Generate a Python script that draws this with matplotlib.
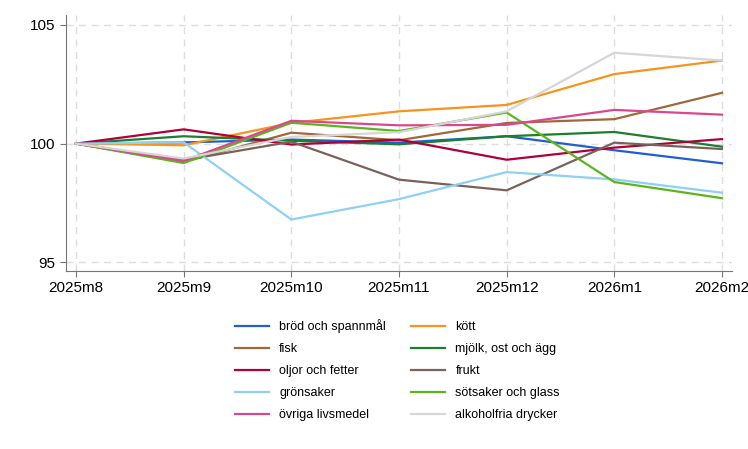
import matplotlib.pyplot as plt

plt.rcParams['font.family'] = ['Liberation Sans', 'DejaVu Sans']

months = ['2025m8', '2025m9', '2025m10', '2025m11', '2025m12', '2026m1', '2026m2']

brod = [100, 100.05, 100.17, 100.04, 100.31, 99.72, 99.17]
kott = [100, 99.93, 100.87, 101.36, 101.63, 102.93, 103.5]
fisk = [100, 99.22, 100.46, 100.14, 100.87, 101.03, 102.14]
mjolk = [100, 100.31, 100.12, 99.97, 100.31, 100.49, 99.87]
oljor = [100, 100.60, 99.96, 100.17, 99.32, 99.83, 100.19]
frukt = [100, 99.30, 100.08, 98.48, 98.03, 100.04, 99.77]
gronsaker = [100, 100.05, 96.80, 97.66, 98.80, 98.49, 97.93]
sotsaker = [100, 99.18, 100.88, 100.53, 101.31, 98.38, 97.70]
ovriga = [100, 99.27, 100.96, 100.77, 100.79, 101.42, 101.22]
alkoholfria = [100, 99.37, 100.28, 100.48, 101.36, 103.83, 103.5]

series = [
    ('bröd och spannmål', brod, '#1f5fcf'),
    ('kött', kott, '#f7941d'),
    ('fisk', fisk, '#a0693a'),
    ('mjölk, ost och ägg', mjolk, '#1a7f2e'),
    ('oljor och fetter', oljor, '#b0003a'),
    ('frukt', frukt, '#7a625a'),
    ('grönsaker', gronsaker, '#8fd0f5'),
    ('sötsaker och glass', sotsaker, '#5cb51c'),
    ('övriga livsmedel', ovriga, '#d9488f'),
    ('alkoholfria drycker', alkoholfria, '#d6d6d6'),
]

fig = plt.figure(figsize=(7.48, 4.49), dpi=100)
ax = fig.add_axes([0.0882, 0.3964, 0.8904, 0.5702])

x = range(len(months))
lines = []
for name, vals, col in series:
    ln, = ax.plot(x, vals, color=col, lw=1.6, label=name)
    lines.append(ln)

ax.set_xlim(-0.093, 6.093)
ax.set_ylim(94.63, 105.42)
ax.set_xticks(list(x))
ax.set_xticklabels(months)
ax.set_yticks([95, 100, 105])

ax.grid(True, color='#dddddd', linestyle=(0, (5, 4)), lw=1)
ax.set_axisbelow(True)
for s in ['top', 'right']:
    ax.spines[s].set_visible(False)
for s in ['left', 'bottom']:
    ax.spines[s].set_color('#777777')
ax.tick_params(axis='both', colors='#777777', labelcolor='black', labelsize=11, length=4)

# legend is filled row by row in the reference, so reorder for column-wise fill
order = list(range(0, 10, 2)) + list(range(1, 10, 2))
handles = [lines[i] for i in order]
labels = [series[i][0] for i in order]
fig.legend(handles, labels, loc='upper left', bbox_to_anchor=(0.299, 0.314), ncol=2,
           frameon=False, fontsize=9, handlelength=2.75, handletextpad=0.8,
           columnspacing=2.0, labelspacing=0.8)

fig.savefig('out.png', dpi=100)
